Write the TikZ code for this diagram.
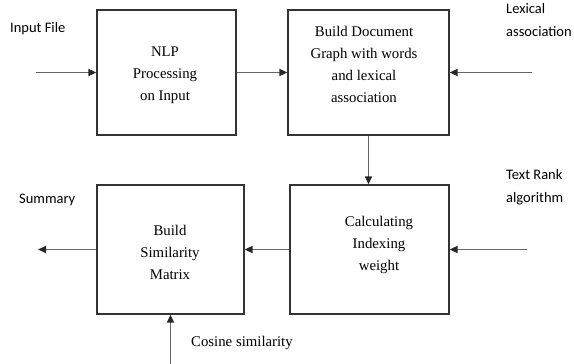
\documentclass[tikz,border=0pt]{standalone}
\usepackage{fontspec}
\setmainfont{Liberation Serif}
\newfontfamily\labfont{Carlito}
\usetikzlibrary{arrows.meta}
\begin{document}
\begin{tikzpicture}[x=1pt,y=-1pt,
  blk/.style={draw=black!80,line width=1.3pt,inner sep=0pt},
  btxt/.style={align=center,font=\fontsize{14.8}{22}\selectfont,inner sep=0pt},
  lbl/.style={align=left,anchor=west,font=\labfont\fontsize{14.5}{23}\selectfont,inner sep=0pt},
  slbl/.style={anchor=west,font=\fontsize{14.8}{22}\selectfont,inner sep=0pt},
  conn/.style={draw=black!60,line width=1.8pt,-{Triangle[length=8pt,width=7pt,color=black!85]}}]
\useasboundingbox (0,0) rectangle (574,364);
% boxes
\node[blk,minimum width=139pt,minimum height=125pt] (b1) at (166.5,72.5) {};
\node[blk,minimum width=161pt,minimum height=125pt] (b2) at (368.5,72.5) {};
\node[blk,minimum width=147pt,minimum height=129pt] (b3) at (170.5,249.5) {};
\node[blk,minimum width=159pt,minimum height=129pt] (b4) at (369.5,249.5) {};
% box texts
\node[btxt] (t1) at (165,75) {NLP\\Processing\\on Input};
\node[btxt] (t2) at (364,64) {Build Document\\Graph with words\\and lexical\\association};
\node[btxt] (t3) at (170,252) {Build\\Similarity\\Matrix};
\node[btxt] (t4) at (379,245) {Calculating\\Indexing\\weight};
% labels
\node[lbl] (lin) at (10,29) {Input File};
\node[lbl] (llex) at (506,20.5) {Lexical\\association};
\node[lbl] (ltr) at (506,187.5) {Text Rank\\algorithm};
\node[lbl] (lsum) at (19,200) {Summary};
\node[slbl] (lcos) at (191,343) {Cosine similarity};
% free ends
\coordinate (inF) at (36,72.5);
\coordinate (lexF) at (532,72.5);
\coordinate (trF) at (527,249.5);
\coordinate (sumF) at (38,249.5);
\coordinate (cosF) at (170.5,364);
% connectors
\draw[conn] (inF) -- (b1.west);
\draw[conn] (b1.east) -- (b2.west);
\draw[conn] (lexF) -- (b2.east);
\draw[conn,line width=1.4pt] (b2.south) -- (b2.south |- b4.north);
\draw[conn] (trF) -- (b4.east);
\draw[conn] (b4.west) -- (b3.east);
\draw[conn] (b3.west) -- (sumF);
\draw[conn,line width=1.4pt] (cosF) -- (b3.south);
\end{tikzpicture}
\end{document}
